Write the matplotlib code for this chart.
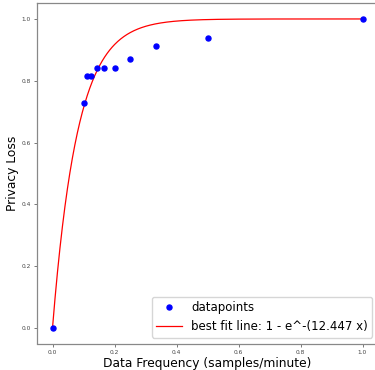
import numpy as np
import matplotlib
matplotlib.use("Agg")
import matplotlib.pyplot as plt

freq = [0.0, 1/10, 1/9, 1/8, 1/7, 1/6, 1/5, 1/4, 1/3, 1/2, 1.0]
loss = [0.0, 0.728, 0.816, 0.817, 0.841, 0.841, 0.841, 0.869, 0.914, 0.937, 1.0]
rate = 12.447

fig = plt.figure(figsize=(3.75, 3.70), dpi=100)
ax = fig.add_axes([37/375, 1-343.5/370, (378-37)/375, (343.5-3.5)/370])

xs = np.linspace(0, 1, 500)
ax.plot(freq, loss, 'o', color='blue', markersize=3.6, label='datapoints', zorder=3)
ax.plot(xs, 1 - np.exp(-rate * xs), color='red', linewidth=0.9,
        label='best fit line: 1 - e^-(12.447 x)')

ax.set_xlim(-0.05, 1.05)
ax.set_ylim(-0.05, 1.05)
ax.set_xticks([0, 0.2, 0.4, 0.6, 0.8, 1.0])
ax.set_yticks([0, 0.2, 0.4, 0.6, 0.8, 1.0])
ax.tick_params(labelsize=4.2, length=2, width=0.5, colors='#444444', pad=2.5)
for s in ax.spines.values():
    s.set_color('#888888')
    s.set_linewidth(0.9)

ax.set_xlabel('Data Frequency (samples/minute)', fontsize=8.8, labelpad=1.5)
ax.set_ylabel('Privacy Loss', fontsize=8.8, labelpad=2)
ax.legend(loc='lower right', fontsize=8.5, handlelength=2.2, borderpad=0.35,
          labelspacing=0.55, handletextpad=0.8, borderaxespad=0.5)

fig.savefig('out.png', dpi=100)
